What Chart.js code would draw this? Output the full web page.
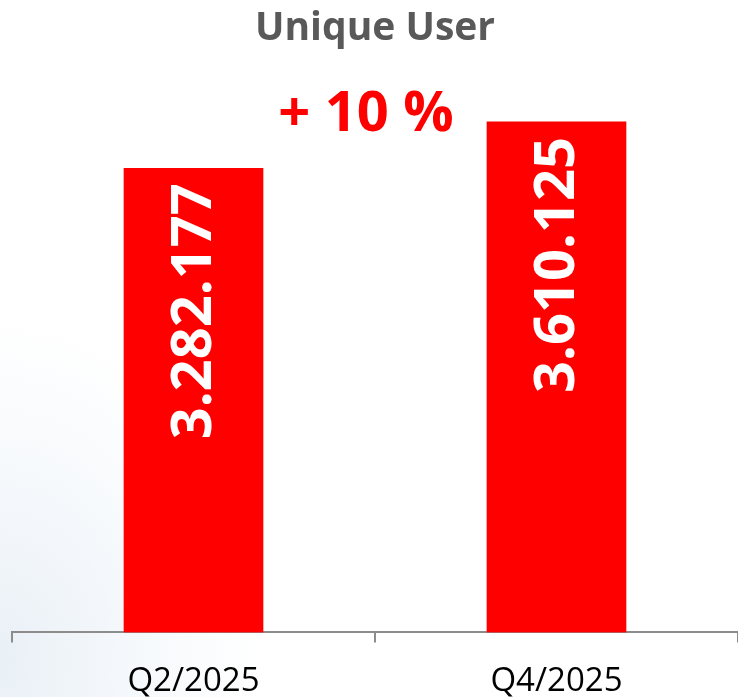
<!DOCTYPE html>
<html>
<head>
<meta charset="utf-8">
<script src="https://cdn.jsdelivr.net/npm/chart.js@4"></script>
<style>
  html, body { margin: 0; padding: 0; }
  body {
    width: 738px; height: 697px; overflow: hidden;
    background: radial-gradient(ellipse 260px 340px at 0px 660px, #e9f0f6 0%, rgba(240,245,250,0.6) 55%, #ffffff 100%);
  }
  #wrap { width: 738px; height: 700px; }
</style>
</head>
<body>
<div id="wrap"><canvas id="myChart"></canvas></div>
<script>
const categories = ['Q2/2025', 'Q4/2025'];
const users = [3282177, 3610125];
const yMax = 4000000;

const fmt = (v) => v.toString().replace(/\B(?=(\d{3})+(?!\d))/g, '.');
const growth = Math.round((users[1] / users[0] - 1) * 100);

// white rotated numbers inside the bars + the growth note
const barText = {
  id: 'barText',
  afterDatasetsDraw(chart) {
    const ctx = chart.ctx;
    const bars = chart.getDatasetMeta(0).data;
    ctx.save();
    ctx.fillStyle = '#ffffff';
    ctx.font = 'bold 56px "Open Sans"';
    ctx.textAlign = 'right';
    ctx.textBaseline = 'middle';
    bars.forEach((bar, i) => {
      ctx.save();
      ctx.translate(bar.x, bar.y + 15);
      ctx.rotate(-Math.PI / 2);
      ctx.fillText(fmt(users[i]), 0, 2);
      ctx.restore();
    });
    ctx.fillStyle = '#ff0000';
    ctx.font = 'bold 56px "Open Sans"';
    ctx.textAlign = 'center';
    const mid = (bars[0].x + bars[1].x) / 2 - 9;
    ctx.fillText('+ ' + growth + ' %', mid, bars[1].y - 7);
    ctx.restore();
  },
};

let ctx = document.getElementById('myChart').getContext('2d');
let myChart = new Chart(ctx, {
  type: 'bar',
  data: {
    labels: categories,
    datasets: [
      {
        label: 'Unique User',
        data: users,
        backgroundColor: '#ff0000',
        borderWidth: 0,
        barThickness: 139,
      },
    ],
  },
  options: {
    responsive: true,
    maintainAspectRatio: false,
    animation: false,
    layout: { padding: { left: 12, right: 0, top: 0, bottom: -20 } },
    plugins: {
      legend: { display: false },
      tooltip: { enabled: false },
      title: {
        display: true,
        text: 'Unique User',
        color: '#595959',
        font: { family: 'Open Sans', size: 39, weight: 'bold', lineHeight: 1.2 },
        padding: { top: 5, bottom: 15 },
      },
    },
    scales: {
      x: {
        grid: {
          drawOnChartArea: false,
          drawTicks: true,
          tickLength: 10,
          color: '#8c8c8c',
          lineWidth: 2,
        },
        border: { display: true, color: '#8c8c8c', width: 2 },
        ticks: {
          color: '#000000',
          padding: 19,
          font: { family: 'Open Sans', size: 33, lineHeight: 1.2 },
        },
      },
      y: {
        display: false,
        beginAtZero: true,
        max: yMax,
      },
    },
  },
  plugins: [barText],
});
</script>
</body>
</html>
